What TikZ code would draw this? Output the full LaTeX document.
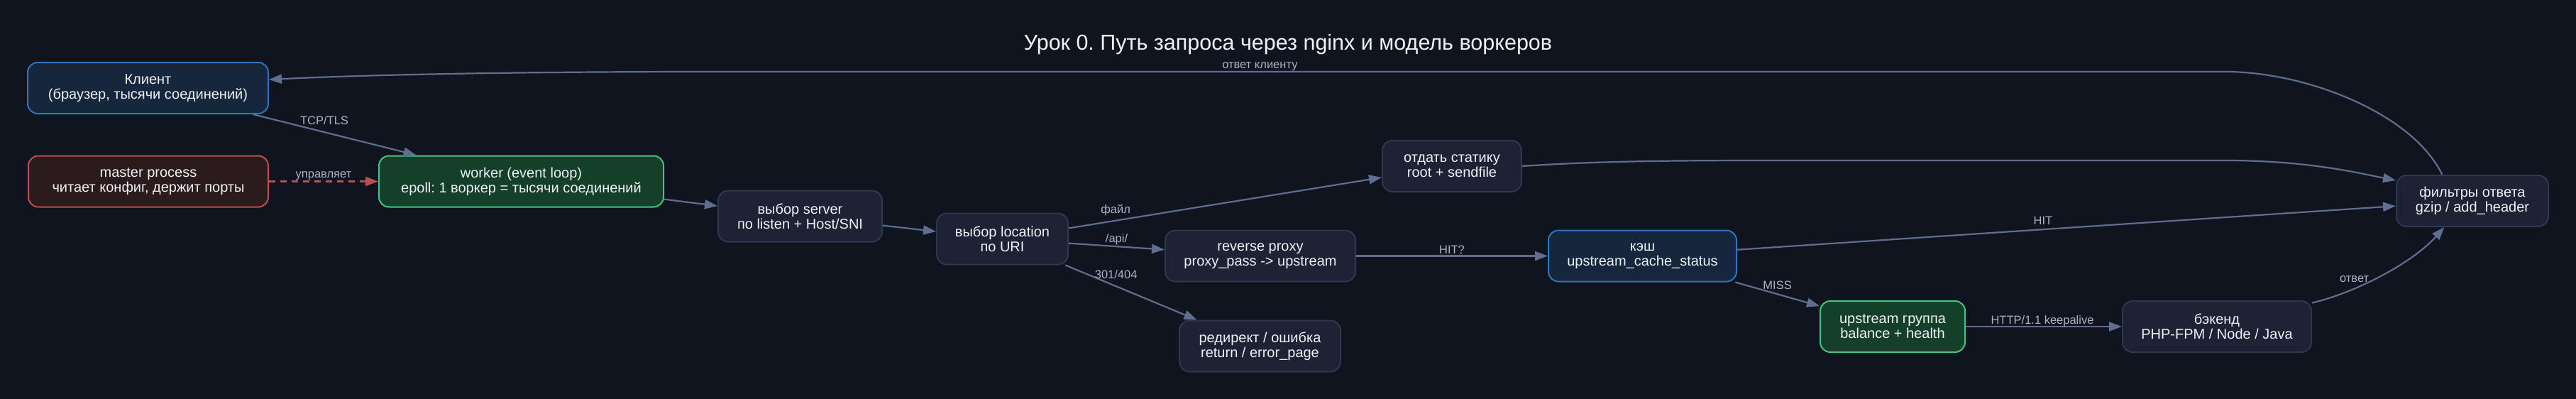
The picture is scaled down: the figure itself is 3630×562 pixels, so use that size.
\documentclass[tikz,border=0pt]{standalone}
\usepackage{fontspec}
\setmainfont{Liberation Sans}
\usetikzlibrary{arrows.meta}
\frenchspacing
\definecolor{bg}{HTML}{10141F}
\definecolor{nfill}{HTML}{1D2334}
\definecolor{ndraw}{HTML}{2E3750}
\definecolor{bfill}{HTML}{16263D}
\definecolor{bdraw}{HTML}{3273BE}
\definecolor{rfill}{HTML}{2C1B1D}
\definecolor{rdraw}{HTML}{B5514F}
\definecolor{gfill}{HTML}{14402A}
\definecolor{gdraw}{HTML}{45C285}
\definecolor{edgec}{HTML}{5F6E8F}
\definecolor{lblc}{HTML}{A9B2C6}
\definecolor{txt}{HTML}{EEF1F6}
\tikzset{
  box/.style={draw=ndraw, fill=nfill, rounded corners=14pt, line width=2pt, align=center,
    text=txt, font=\fontsize{20}{21}\selectfont, inner sep=0pt, minimum height=72pt},
  bluebox/.style={box, draw=bdraw, fill=bfill},
  redbox/.style={box, draw=rdraw, fill=rfill},
  greenbox/.style={box, draw=gdraw, fill=gfill},
  conn/.style={draw=edgec, line width=2.2pt, -{Triangle[length=18pt,width=13pt]}},
  lbl/.style={text=lblc, font=\fontsize{16.5}{18}\selectfont, inner sep=1pt}
}
\begin{document}
\begin{tikzpicture}[x=1pt,y=-1pt]
\fill[bg] (0,0) rectangle (3630,562);
\useasboundingbox (0,0) rectangle (3630,562);

\node[text=txt, font=\fontsize{30.5}{33}\selectfont] (title) at (1815,63) {Урок 0. Путь запроса через nginx и модель воркеров};

\node[bluebox, minimum width=339pt] (client) at (208.5,124) {Клиент\\(браузер, тысячи соединений)};
\node[redbox, minimum width=338pt] (master) at (209,255.5) {master process\\читает конфиг, держит порты};
\node[greenbox, minimum width=401pt] (worker) at (734.5,255.5) {worker (event loop)\\epoll: 1 воркер = тысячи соединений};
\node[box, minimum width=231pt] (server) at (1127.5,304.5) {выбор server\\по listen + Host/SNI};
\node[box, minimum width=185pt] (location) at (1412.5,336.5) {выбор location\\по URI};
\node[box, minimum width=196pt] (static) at (2046,234) {отдать статику\\root + sendfile};
\node[box, minimum width=268pt] (proxy) at (1776,360.5) {reverse proxy\\proxy\_pass -> upstream};
\node[box, minimum width=227pt] (redirect) at (1775.5,487.5) {редирект / ошибка\\return / error\_page};
\node[bluebox, minimum width=265pt] (cache) at (2314.5,360.5) {кэш\\upstream\_cache\_status};
\node[greenbox, minimum width=204pt] (upstream) at (2667,460) {upstream группа\\balance + health};
\node[box, minimum width=266pt] (backend) at (3124,460) {бэкенд\\PHP-FPM / Node / Java};
\node[box, minimum width=214pt] (filters) at (3484,283) {фильтры ответа\\gzip / add\_header};

\draw[conn] (client) -- node[lbl, pos=0.5, shift={(-14.5,-20.5)}] {TCP/TLS} (worker);
\draw[conn, draw=rdraw, dashed, dash pattern=on 9pt off 7pt, -{Triangle[length=18pt,width=13pt,fill=rdraw]}]
  (master) -- node[lbl, pos=0.5, shift={(0,-7.5)}] {управляет} (worker);
\draw[conn] (worker) -- (server);
\draw[conn] (server) -- (location);
\draw[conn] (location) -- node[lbl, pos=0.15, shift={(0,-15)}] {файл} (static);
\draw[conn] (location) -- node[lbl, pos=0.5, shift={(0,-10)}] {/api/} (proxy);
\draw[conn] (location) -- node[lbl, pos=0.385, shift={(0,-17)}] {301/404} (redirect);
\draw[conn] (proxy) -- node[lbl, pos=0.5, shift={(0,-8.5)}] {HIT?} (cache);
\draw[conn] (cache) -- node[lbl, pos=0.46, shift={(4,-13)}] {HIT} (filters);
\draw[conn] (cache) -- node[lbl, pos=0.5, shift={(0,-12.6)}] {MISS} (upstream);
\draw[conn] (upstream) -- node[lbl, pos=0.5, shift={(-2,-8)}] {HTTP/1.1 keepalive} (backend);
\draw[conn] (backend.14) .. controls (3320,412) and (3400,370) .. node[lbl, pos=0.4, shift={(-20,-4)}] {ответ} (filters.223);
\draw[conn] (static.east) .. controls (2250,227) and (2350,226) .. (2500,226) -- (3136,226)
  .. controls (3250,226) and (3320,243) .. (filters.165);
\draw[conn] (filters.139) .. controls (3400,160) and (3250,101) .. (3136,101)
  -- node[lbl, pos=0.637, shift={(0,-7)}] {ответ клиенту} (1000,101)
  .. controls (700,101) and (500,106) .. (client.4);
\end{tikzpicture}
\end{document}
